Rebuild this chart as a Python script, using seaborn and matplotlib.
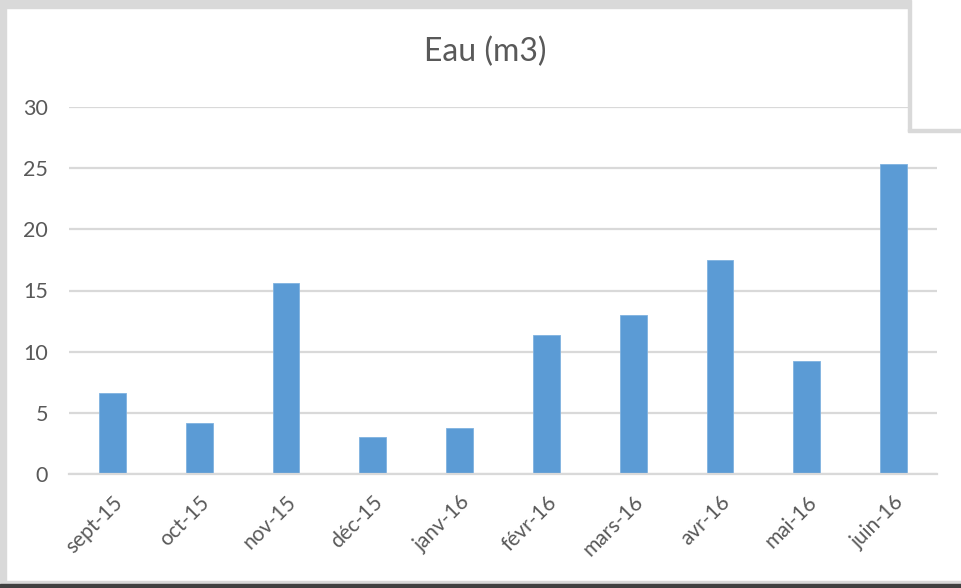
import matplotlib
matplotlib.use("Agg")
import matplotlib.pyplot as plt
from matplotlib.patches import Rectangle
import seaborn as sns
import pandas as pd

months = ["sept-15", "oct-15", "nov-15", "déc-15", "janv-16",
          "févr-16", "mars-16", "avr-16", "mai-16", "juin-16"]
water_m3 = [6.6, 4.2, 15.6, 3.0, 3.8, 11.4, 13.0, 17.5, 9.2, 25.3]
y_ticks = [0, 5, 10, 15, 20, 25, 30]

sns.set_style("white")
plt.rcParams["font.family"] = ["Lato", "DejaVu Sans"]

W, H = 961, 588
fig = plt.figure(figsize=(W / 100, H / 100), dpi=100)
ax = fig.add_axes([69 / W, 1 - 474 / H, (937 - 69) / W, (474 - 107) / H])

df = pd.DataFrame({"mois": months, "eau": water_m3})
sns.barplot(data=df, x="mois", y="eau", color="#5b9bd5", saturation=1,
            width=0.31, ax=ax, edgecolor="#7fb2e0", linewidth=0.6, zorder=3)

grid_c = "#d9d9d9"
text_c = "#595959"
ax.set_xlim(-0.5, len(months) - 0.5)
ax.set_ylim(0, 30)
ax.set_yticks(y_ticks)
ax.yaxis.grid(True, color=grid_c, linewidth=1.6, zorder=0)
ax.set_xlabel("")
ax.set_ylabel("")
for s in ["left", "right", "top"]:
    ax.spines[s].set_visible(False)
ax.spines["bottom"].set_color(grid_c)
ax.spines["bottom"].set_linewidth(1.6)
ax.spines["bottom"].set_zorder(4)

ax.tick_params(axis="y", length=0, pad=15, labelsize=15.5, labelcolor=text_c)
ax.set_xticks(range(len(months)))
ax.set_xticklabels(months)
ax.tick_params(axis="x", which="major", length=0, pad=13, labelsize=15,
               labelcolor=text_c)
ax.set_xticks([i - 0.5 for i in range(len(months) + 1)], minor=True)
ax.tick_params(axis="x", which="minor", length=7, width=1.6, color=grid_c,
               direction="out")
for lbl in ax.get_xticklabels():
    lbl.set_rotation(45)
    lbl.set_ha("right")
    lbl.set_rotation_mode("anchor")

fig.text(485 / W, 1 - 52 / H, "Eau (m3)", ha="center", va="center",
         fontsize=23, color=text_c)

# chart frame
frame = "#d9d9d9"
fig.patches.append(Rectangle((0, 1 - 8 / H), 909 / W, 8 / H,
                             transform=fig.transFigure, color=frame, zorder=10))
fig.patches.append(Rectangle((0, 0), 6 / W, 1,
                             transform=fig.transFigure, color=frame, zorder=10))
fig.patches.append(Rectangle((0, 4 / H), 1, 3 / H,
                             transform=fig.transFigure, color=frame, zorder=10))
fig.patches.append(Rectangle((0, 0), 1, 4 / H,
                             transform=fig.transFigure, color="#404040", zorder=10))
# overlapping box at top right
fig.patches.append(Rectangle((909 / W, 1 - 131 / H), 52 / W, 131 / H,
                             transform=fig.transFigure, facecolor="white",
                             edgecolor="none", zorder=11))
fig.patches.append(Rectangle((908 / W, 1 - 131 / H), 3 / W, 131 / H,
                             transform=fig.transFigure, color=frame, zorder=12))
fig.patches.append(Rectangle((908 / W, 1 - 132 / H), 53 / W, 3 / H,
                             transform=fig.transFigure, color=frame, zorder=12))

fig.savefig("out.png", dpi=100)
